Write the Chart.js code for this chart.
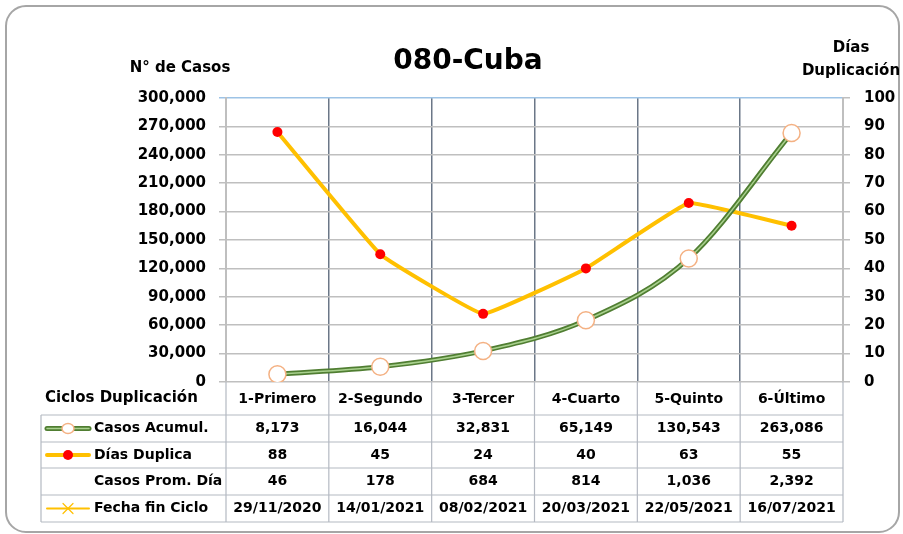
<!DOCTYPE html>
<html>
<head>
<meta charset="utf-8">
<script src="https://cdn.jsdelivr.net/npm/chart.js@4"></script>
<style>
  html, body { margin: 0; padding: 0; background: #fff; }
  #wrap { width: 903px; height: 534px; }
</style>
</head>
<body>
<div id="wrap"><canvas id="chart" width="903" height="534"></canvas></div>
<script>
// Chart data
const cycles = ["1-Primero", "2-Segundo", "3-Tercer", "4-Cuarto", "5-Quinto", "6-Último"];
const casosAcumul = [8173, 16044, 32831, 65149, 130543, 263086];
const diasDuplica = [88, 45, 24, 40, 63, 55];
const casosPromDia = [46, 178, 684, 814, 1036, 2392];
const fechaFinCiclo = ["29/11/2020", "14/01/2021", "08/02/2021", "20/03/2021", "22/05/2021", "16/07/2021"];
const casosTicks = { min: 0, max: 300000, step: 30000 };
const diasTicks = { min: 0, max: 100, step: 10 };

const FONT = "DejaVu Sans";
const GREEN = "#507E32";
const GREEN_LIGHT = "#A9D18E";
const YELLOW = "#FFC000";
const RED = "#FF0000";
const MARKER_EDGE = "#F4B183";
const TABLE_LINE = "#B4B9C2";

const fmt = n => n.toLocaleString("en-US");

// rounded frame + white background
const framePlugin = {
  id: "frame",
  beforeDraw(chart) {
    const ctx = chart.ctx;
    ctx.save();
    ctx.fillStyle = "#fff";
    ctx.fillRect(0, 0, chart.width, chart.height);
    ctx.beginPath();
    ctx.roundRect(6, 6, 893, 526, 20);
    ctx.strokeStyle = "#A6A6A6";
    ctx.lineWidth = 2;
    ctx.stroke();
    ctx.restore();
  }
};

// titles and data table below the plot
const tablePlugin = {
  id: "dataTable",
  afterDraw(chart) {
    const ctx = chart.ctx;
    const area = chart.chartArea;
    const x = chart.scales.x;
    const colW = (area.right - area.left) / cycles.length;
    const rows = [415, 442, 468, 495, 522];
    const tableLeft = 41;

    ctx.save();
    ctx.fillStyle = "#000";
    ctx.textBaseline = "middle";

    // titles
    ctx.textAlign = "center";
    ctx.font = `bold 28px "${FONT}"`;
    ctx.fillText("080-Cuba", 468, 62);
    ctx.font = `bold 15px "${FONT}"`;
    ctx.fillText("N° de Casos", 180, 68);
    ctx.fillText("Días", 851, 48);
    ctx.fillText("Duplicación", 851, 71);

    // table grid
    ctx.strokeStyle = TABLE_LINE;
    ctx.lineWidth = 1.2;
    ctx.beginPath();
    rows.forEach(y => { ctx.moveTo(tableLeft, y); ctx.lineTo(area.right, y); });
    ctx.moveTo(tableLeft, rows[0]); ctx.lineTo(tableLeft, rows[rows.length - 1]);
    for (let i = 0; i <= cycles.length; i++) {
      const gx = area.left + i * colW;
      ctx.moveTo(gx, area.bottom); ctx.lineTo(gx, rows[rows.length - 1]);
    }
    ctx.stroke();

    // header row
    ctx.font = `bold 15px "${FONT}"`;
    ctx.textAlign = "left";
    ctx.fillText("Ciclos Duplicación", 45, 398);
    ctx.font = `bold 14px "${FONT}"`;
    ctx.textAlign = "center";
    cycles.forEach((c, i) => ctx.fillText(c, x.getPixelForValue(i), 399));

    // data rows
    const body = [
      casosAcumul.map(fmt),
      diasDuplica.map(fmt),
      casosPromDia.map(fmt),
      fechaFinCiclo
    ];
    const labels = ["Casos Acumul.", "Días Duplica", "Casos Prom. Día", "Fecha fin Ciclo"];
    body.forEach((vals, r) => {
      const cy = (rows[r] + rows[r + 1]) / 2;
      ctx.textAlign = "left";
      ctx.fillText(labels[r], 94, cy);
      ctx.textAlign = "center";
      vals.forEach((v, i) => ctx.fillText(v, x.getPixelForValue(i), cy));
    });

    // legend keys
    const ky = r => (rows[r] + rows[r + 1]) / 2;
    // casos acumul
    ctx.lineCap = "round";
    ctx.strokeStyle = GREEN; ctx.lineWidth = 5;
    ctx.beginPath(); ctx.moveTo(47, ky(0)); ctx.lineTo(89, ky(0)); ctx.stroke();
    ctx.strokeStyle = GREEN_LIGHT; ctx.lineWidth = 1.5;
    ctx.beginPath(); ctx.moveTo(47, ky(0)); ctx.lineTo(89, ky(0)); ctx.stroke();
    ctx.fillStyle = "#fff"; ctx.strokeStyle = MARKER_EDGE; ctx.lineWidth = 1.5;
    ctx.beginPath(); ctx.ellipse(68, ky(0), 6, 5, 0, 0, Math.PI * 2); ctx.fill(); ctx.stroke();
    // dias duplica
    ctx.strokeStyle = YELLOW; ctx.lineWidth = 4;
    ctx.beginPath(); ctx.moveTo(47, ky(1)); ctx.lineTo(89, ky(1)); ctx.stroke();
    ctx.fillStyle = RED;
    ctx.beginPath(); ctx.arc(68, ky(1), 5, 0, Math.PI * 2); ctx.fill();
    // fecha fin ciclo
    ctx.strokeStyle = YELLOW; ctx.lineWidth = 2;
    ctx.beginPath(); ctx.moveTo(47, ky(3)); ctx.lineTo(89, ky(3)); ctx.stroke();
    ctx.lineWidth = 1.2;
    ctx.beginPath();
    ctx.moveTo(63, ky(3) - 5); ctx.lineTo(73, ky(3) + 5);
    ctx.moveTo(73, ky(3) - 5); ctx.lineTo(63, ky(3) + 5);
    ctx.stroke();

    ctx.restore();
  }
};

new Chart(document.getElementById("chart"), {
  type: "line",
  data: {
    labels: cycles,
    datasets: [
      {
        label: "Casos Acumul.",
        data: casosAcumul,
        yAxisID: "y",
        borderColor: GREEN,
        borderWidth: 5,
        cubicInterpolationMode: "monotone",
        pointRadius: 0,
        order: 3
      },
      {
        label: "Casos Acumul. (highlight)",
        data: casosAcumul,
        yAxisID: "y",
        borderColor: GREEN_LIGHT,
        borderWidth: 1.5,
        cubicInterpolationMode: "monotone",
        pointRadius: 8.5,
        pointBackgroundColor: "#fff",
        pointBorderColor: MARKER_EDGE,
        pointBorderWidth: 1.5,
        order: 2
      },
      {
        label: "Días Duplica",
        data: diasDuplica,
        yAxisID: "y1",
        borderColor: YELLOW,
        borderWidth: 4,
        tension: 0.08,
        pointRadius: 5,
        pointBackgroundColor: RED,
        pointBorderColor: RED,
        pointBorderWidth: 0,
        order: 4
      }
    ]
  },
  options: {
    responsive: false,
    animation: false,
    layout: { padding: { top: 98, bottom: 152, left: 0, right: 0 } },
    plugins: { legend: { display: false }, tooltip: { enabled: false } },
    scales: {
      x: {
        offset: true,
        ticks: { display: false },
        border: { display: false },
        grid: {
          offset: true,
          drawTicks: false,
          lineWidth: 1.5,
          color: ctx => (ctx.index === 0 || ctx.index === cycles.length) ? "#BFBFBF" : "#6B7787"
        },
        afterFit: s => { s.height = 0; }
      },
      y: {
        position: "left",
        min: casosTicks.min,
        max: casosTicks.max,
        ticks: {
          stepSize: casosTicks.step,
          padding: 13,
          color: "#000",
          font: { family: FONT, size: 15, weight: "bold" },
          callback: v => fmt(v)
        },
        grid: {
          tickLength: 7,
          lineWidth: 1.5,
          color: ctx => ctx.tick && ctx.tick.value === casosTicks.max ? "#9DC3E6" : "#BFBFBF"
        },
        border: { color: "#BFBFBF", width: 2 },
        afterFit: s => { s.width = 226; }
      },
      y1: {
        position: "right",
        min: diasTicks.min,
        max: diasTicks.max,
        ticks: {
          stepSize: diasTicks.step,
          padding: 14,
          color: "#000",
          font: { family: FONT, size: 15, weight: "bold" }
        },
        grid: { drawOnChartArea: false, tickLength: 7, color: "#BFBFBF", lineWidth: 1.5 },
        border: { color: "#BFBFBF", width: 2 },
        afterFit: s => { s.width = 60; }
      }
    }
  },
  plugins: [framePlugin, tablePlugin]
});
</script>
</body>
</html>
